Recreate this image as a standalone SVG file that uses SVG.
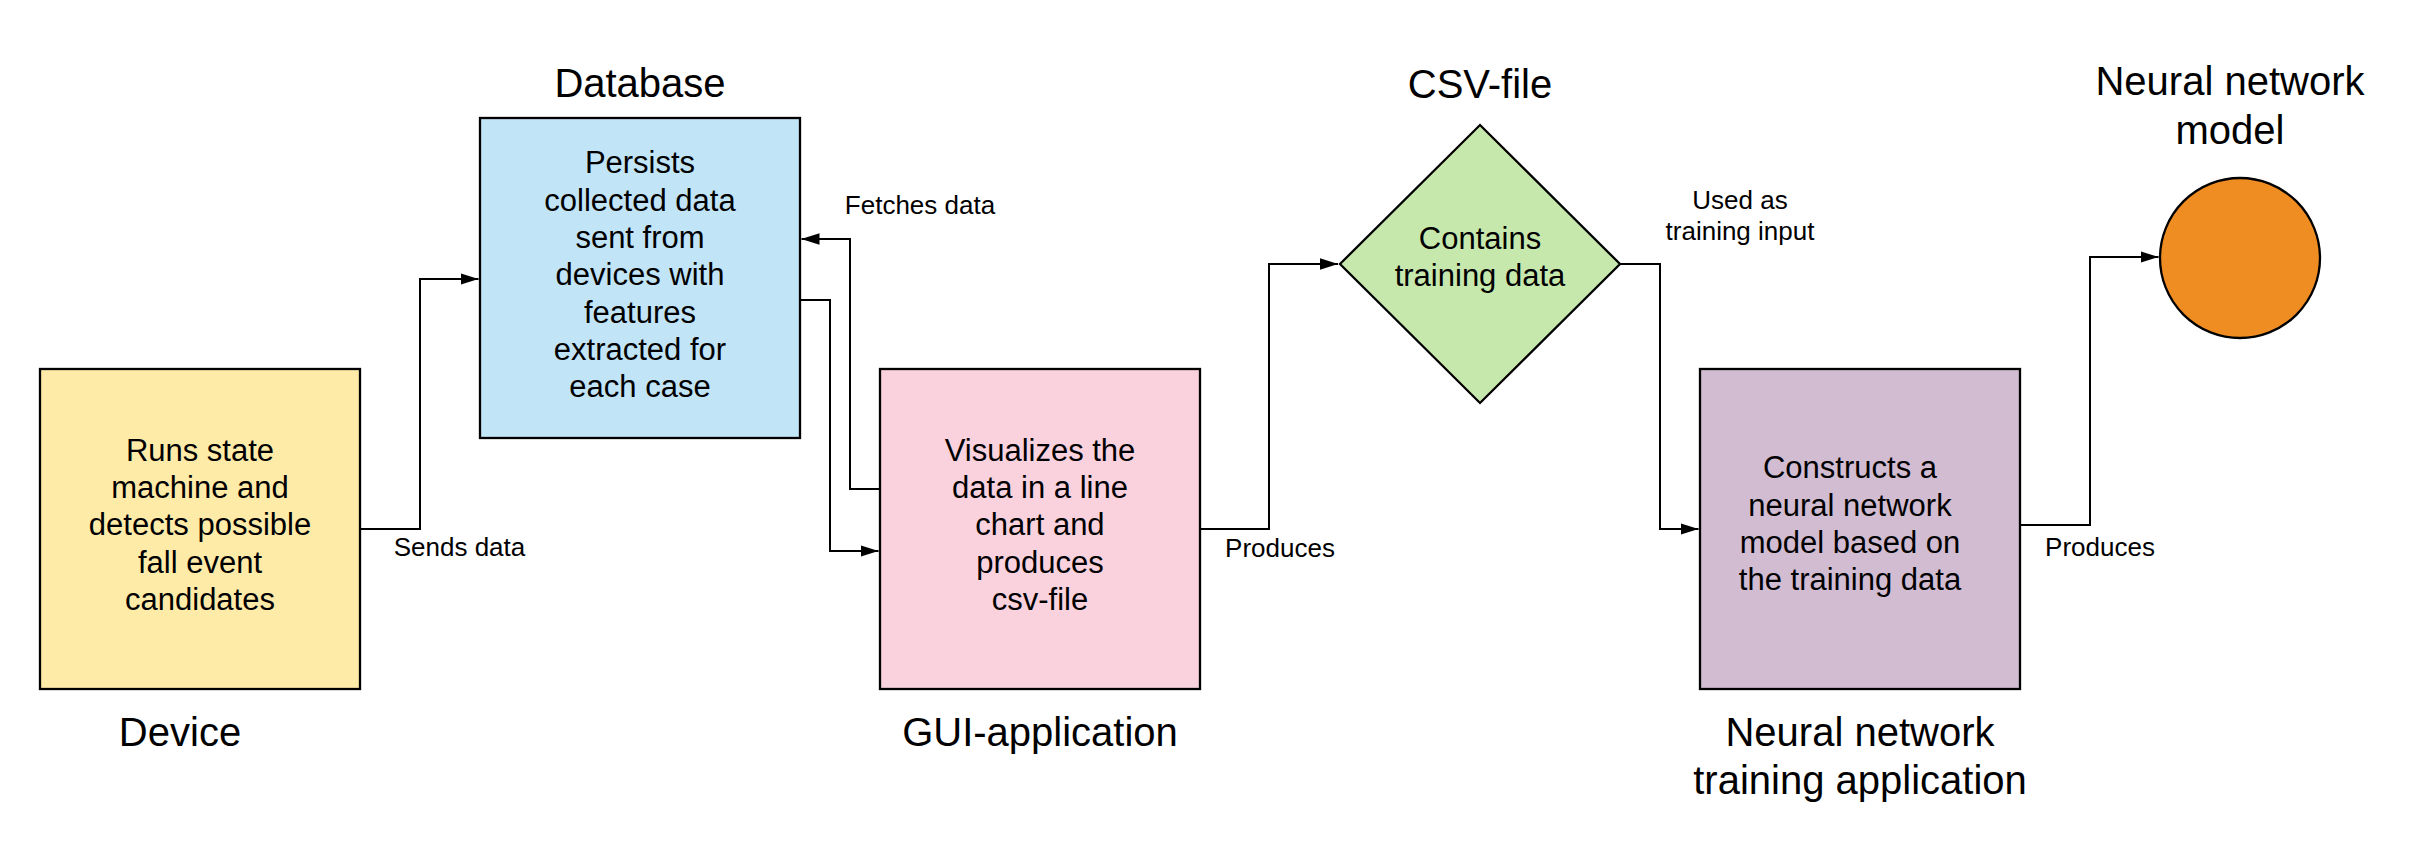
<svg xmlns="http://www.w3.org/2000/svg" width="2420" height="847" viewBox="0 0 2420 847">
<defs>
<marker id="arrow" markerUnits="userSpaceOnUse" markerWidth="18" markerHeight="12" refX="18" refY="6" orient="auto">
<path d="M0,0.3 L18,6 L0,11.7 z" fill="#000"/>
</marker>
<style>
.box{stroke:#000;stroke-width:2.3}
.t{font-family:"Liberation Sans",Arial,sans-serif;font-size:31px;fill:#000;text-anchor:middle}
.title{font-family:"Liberation Sans",Arial,sans-serif;font-size:40px;fill:#000;text-anchor:middle}
.lbl{font-family:"Liberation Sans",Arial,sans-serif;font-size:26px;fill:#000;text-anchor:middle}
.conn{fill:none;stroke:#000;stroke-width:2;marker-end:url(#arrow)}
</style>
</defs>
<rect width="2420" height="847" fill="#fff"/>

<g id="connectors">
<path class="conn" d="M360,529 H420 V279 H478.5"/>
<path class="conn" d="M800,300 H830 V551 H878.5"/>
<path class="conn" d="M880,489 H850 V239 H801.5"/>
<path class="conn" d="M1200,529 H1269 V264 H1338"/>
<path class="conn" d="M1620,264 H1660 V529 H1698.5"/>
<path class="conn" d="M2020,525 H2090 V257 H2158.5"/>
<text class="lbl" x="459.5" y="555.5">Sends data</text>
<text class="lbl" x="920" y="214">Fetches data</text>
<text class="lbl" x="1280" y="556.5">Produces</text>
<text class="lbl" x="1740" y="208.5">Used as</text>
<text class="lbl" x="1740" y="240">training input</text>
<text class="lbl" x="2100" y="555.5">Produces</text>
</g>

<g id="device">
<rect class="box" x="40" y="369" width="320" height="320" fill="#FFEBA8"/>
<text class="t"><tspan x="200" y="460.7">Runs state</tspan><tspan x="200" y="498">machine and</tspan><tspan x="200" y="535.3">detects possible</tspan><tspan x="200" y="572.6">fall event</tspan><tspan x="200" y="609.9">candidates</tspan></text>
<text class="title" x="180" y="746">Device</text>
</g>

<g id="database">
<rect class="box" x="480" y="118" width="320" height="320" fill="#C1E4F7"/>
<text class="t"><tspan x="640" y="173.4">Persists</tspan><tspan x="640" y="210.7">collected data</tspan><tspan x="640" y="248">sent from</tspan><tspan x="640" y="285.3">devices with</tspan><tspan x="640" y="322.6">features</tspan><tspan x="640" y="359.9">extracted for</tspan><tspan x="640" y="397.2">each case</tspan></text>
<text class="title" x="640" y="96.5">Database</text>
</g>

<g id="gui">
<rect class="box" x="880" y="369" width="320" height="320" fill="#F9D2DE"/>
<text class="t"><tspan x="1040" y="460.7">Visualizes the</tspan><tspan x="1040" y="498">data in a line</tspan><tspan x="1040" y="535.3">chart and</tspan><tspan x="1040" y="572.6">produces</tspan><tspan x="1040" y="609.9">csv-file</tspan></text>
<text class="title" x="1040" y="746">GUI-application</text>
</g>

<g id="csv">
<polygon class="box" points="1480,125 1620,264 1480,403 1340,264" fill="#C7E8AC"/>
<text class="t"><tspan x="1480" y="249.3">Contains</tspan><tspan x="1480" y="286.3">training data</tspan></text>
<text class="title" x="1480" y="97.5">CSV-file</text>
</g>

<g id="nn-training">
<rect class="box" x="1700" y="369" width="320" height="320" fill="#D1BCD2"/>
<text class="t"><tspan x="1850" y="478.3">Constructs a</tspan><tspan x="1850" y="515.7">neural network</tspan><tspan x="1850" y="553">model based on</tspan><tspan x="1850" y="590.3">the training data</tspan></text>
<text class="title"><tspan x="1860" y="746.3">Neural network</tspan><tspan x="1860" y="794">training application</tspan></text>
</g>

<g id="nn-model">
<circle class="box" cx="2240" cy="258" r="80" fill="#EF8D22"/>
<text class="title"><tspan x="2230" y="94.8">Neural network</tspan><tspan x="2230" y="143.6">model</tspan></text>
</g>
</svg>
